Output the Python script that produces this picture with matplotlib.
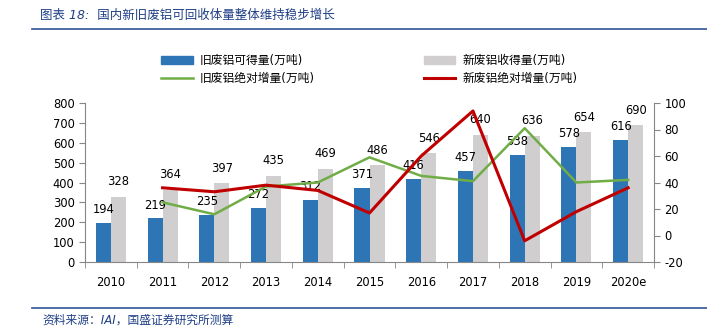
import matplotlib
matplotlib.use("Agg")
import matplotlib.pyplot as plt
from matplotlib.lines import Line2D
from matplotlib.patches import Patch
import numpy as np

plt.rcParams['font.family'] = ['DejaVu Sans', 'Noto Sans CJK SC']
plt.rcParams['axes.unicode_minus'] = False

years = ['2010', '2011', '2012', '2013', '2014', '2015', '2016', '2017', '2018', '2019', '2020e']
old_supply = [194, 219, 235, 272, 312, 371, 416, 457, 538, 578, 616]
new_supply = [328, 364, 397, 435, 469, 486, 546, 640, 636, 654, 690]
old_increase = [None, 25, 16, 37, 40, 59, 45, 41, 81, 40, 42]
new_increase = [None, 36, 33, 38, 34, 17, 60, 94, -4, 18, 36]

blue = '#2E75B6'
gray = '#D0CECE'
green = '#70AD47'
red = '#C00000'
axis_color = '#868686'
title_color = '#1F3F86'

fig = plt.figure(figsize=(7.07, 3.30), dpi=100)
ax = fig.add_axes([85 / 707, 68 / 330, 569 / 707, 159 / 330])
ax2 = ax.twinx()

x = np.arange(len(years))
w = 0.29
ax.bar(x - w / 2, old_supply, w, color=blue, zorder=2)
ax.bar(x + w / 2, new_supply, w, color=gray, zorder=2)

for xi, v in zip(x, old_supply):
    ax.annotate(str(v), (xi - w / 2, v), xytext=(0, 5), textcoords='offset points',
                ha='center', va='bottom', fontsize=8.3)
for xi, v in zip(x, new_supply):
    ax.annotate(str(v), (xi + w / 2, v), xytext=(0, 6), textcoords='offset points',
                ha='center', va='bottom', fontsize=8.3)

ax2.plot(x[1:], old_increase[1:], color=green, lw=1.8, zorder=3)
ax2.plot(x[1:], new_increase[1:], color=red, lw=2.2, zorder=3)

ax.set_xlim(-0.5, len(years) - 0.5)
ax.set_ylim(0, 800)
ax.set_yticks(range(0, 801, 100))
ax2.set_ylim(-20, 100)
ax2.set_yticks(range(-20, 101, 20))

ax.set_xticks(x)
ax.set_xticklabels(years)
ax.set_xticks(np.arange(-0.5, len(years), 1), minor=True)
ax.tick_params(axis='x', which='major', length=0, pad=10, labelsize=8.3)
ax.tick_params(axis='x', which='minor', length=4, color=axis_color, direction='out')
ax.tick_params(axis='y', length=4, color=axis_color, labelsize=8.3)
ax2.tick_params(axis='y', length=4, color=axis_color, labelsize=8.3)

for a in (ax, ax2):
    a.spines['top'].set_visible(False)
    for s in ('left', 'right', 'bottom'):
        a.spines[s].set_color(axis_color)
ax.spines['right'].set_visible(False)
ax2.spines['left'].set_visible(False)
ax2.spines['bottom'].set_visible(False)

handles = [
    Patch(color=blue, label='旧废铝可得量(万吨)'),
    Line2D([], [], color=green, lw=1.8, label='旧废铝绝对增量(万吨)'),
    Patch(color=gray, label='新废铝收得量(万吨)'),
    Line2D([], [], color=red, lw=2.2, label='新废铝绝对增量(万吨)'),
]
fig.legend(handles=handles, ncol=2, loc='upper left', bbox_to_anchor=(161 / 707, 1 - 54 / 330),
           frameon=False, fontsize=8.5, handlelength=2.7, handleheight=0.6,
           handletextpad=0.6, columnspacing=9.2, labelspacing=0.45, borderpad=0,
           borderaxespad=0)

# header and footer
fig.text(40 / 707, 1 - 15 / 330, '图表 18:  国内新旧废铝可回收体量整体维持稳步增长',
         fontsize=9, color=title_color, style='italic', va='center', ha='left')
fig.add_artist(Line2D([32 / 707, 1], [1 - 29 / 330] * 2, color='#2F5597', lw=1.2))
fig.add_artist(Line2D([32 / 707, 1], [1 - 308 / 330] * 2, color='#2F5597', lw=1.2))
fig.text(42 / 707, 1 - 320 / 330, '资料来源：IAI，国盛证券研究所测算',
         fontsize=8.5, color=title_color, style='italic', va='center', ha='left')

fig.savefig('out.png', dpi=100)
